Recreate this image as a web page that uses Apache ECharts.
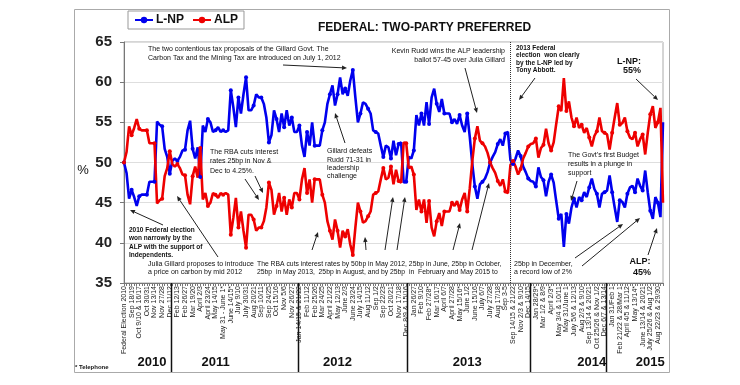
<!DOCTYPE html>
<html><head><meta charset="utf-8">
<script src="https://cdn.jsdelivr.net/npm/echarts@6/dist/echarts.min.js"></script>
<style>html,body{margin:0;padding:0;background:#fff}#c{width:740px;height:385px}</style>
</head><body><div id="c"></div>
<script>
// ---- categories (poll dates) ----
const cat2010 = ["Federal Election 2010","Aug 28/29 & Sep 4/5","Sep 11/12","Sep 18/19","Sep 25/26","Oct 2/3","Oct 9/10 & 16/17","Oct 13/14*","Oct 23/24","Oct 30/31","Nov 3/4*","Nov 6/7","Nov 13/14","Nov 17/18*","Nov 20/21","Nov 27/28","Dec 1/2*","Dec 4/5","Dec 11/12"];
const cat2011 = ["Jan 15/16 & 22/23","Jan 29/30 & Feb 5/6","Feb 12/13","Feb 19/20","Feb 22/23*","Feb 26/27","Mar 5/6","Mar 12/13","Mar 19/20","Mar 22/23*","Mar 26/27","April 2/3","April 9/10 & 16/17","April 19/20*","April 23/24","April 30/May 1","May 7/8","May 14/15","May 21/22","May 28/29","May 31 - June 1*","June 4/5","June 11/12 & 18/19","June 14/15*","June 25/26","July 2/3","July 9/10","July 16/17 & 23/24","July 19/20*","July 30/31","Aug 6/7","Aug 13/14","Aug 20/21","Aug 23/24*","Aug 27/28 & Sep 3/4","Sep 10/11","Sep 17/18","Sep 20/21*","Sep 24/25","Oct 1/2","Oct 8/9","Oct 15/16","Oct 22/23","Oct 29/30","Nov 5/6","Nov 12/13","Nov 19/20","Nov 26/27","Dec 3/4","Dec 10/11 & 17/18"];
const cat2012 = ["Jan 14/15 & 21/22","Jan 28/29","Feb 4/5","Feb 11/12","Feb 18/19","Feb 21/22*","Feb 25/26","Mar 3/4","Mar 10/11 & 17/18","Mar 24/25","Mar 31/April 1","April 14/15","April 21/22","April 28/29","May 5/6","May 12/13","May 19/20","May 26/27","June 2/3","June 9/10","June 16/17","June 23/24","June 26/27*","June 30/ July 1 & 7/8","July 14/15","July 21/22","July 28/29 & Aug 4/5","Aug 11/12","Aug 18/19","Aug 25/26","Sep 1/2","Sep 8/9","Sep 15/16","Sep 22/23","Sep 29/30 & Oct 6/7","Oct 13/14","Oct 20/21","Oct 27/28 & Nov 3/4","Nov 10/11","Nov 17/18","Nov 24/25","Dec 1/2","Dec 8/9 & 15/16"];
const cat2013 = ["Jan 5/6 & 12/13","Jan 19/20","Jan 26/27","Jan 30/31*","Feb 2/3","Feb 9/10","Feb 16/17","Feb 23/24","Feb 27/28*","Mar 2/3","Mar 9/10","Mar 16/17","Mar 23/24","April 3/4*","April 6/7","April 13/14","April 20/21","April 27/28","May 4/5","May 11/12","May 15/16*","May 18/19","May 25/26","June 1/2","June 8/9","June 12/13*","June 15/16","June 22/23","June 29/30","July 6/7","July 13/14","July 20/21","July 27/28","Aug 3/4","Aug 10/11","Aug 17/18","Aug 24/25","Aug 31/Sep 1","Sep 3-5","Sep 6","Federal Election 2013","Sep 14/15 & 21/22","Oct 5/6 & 12/13","Oct 19/20 & 26/27","Nov 2/3 & 9/10","Nov 16/17 & 23/24","Nov 30/Dec 1 & 7/8","Dec 14/15"];
const cat2014 = ["Jan 4/5 & 11/12","Jan 18/19 & 25/26","Jan 28/29*","Feb 1/2 & 8/9","Feb 15/16 & 22/23","Mar 1/2 & 8/9","Mar 15/16 & 22/23","Mar 29/30 & Apr 5/6","April 2/3*","April 12/13","April 19/20 & 26/27","May 3/4 & 10/11","May 14/15*","May 17/18 & 24/25","May 31/June 1","June 7/8 & 14/15","June 21/22 & 28/29","July 5/6 & 12/13","July 9/10*","July 19/20 & 26/27","Aug 2/3 & 9/10","Aug 16/17 & 23/24","Aug 30/31 & Sep 6/7","Sep 13/14 & 20/21","Sep 27/28 & Oct 4/5","Oct 11/12 & 18/19","Oct 25/26 & Nov 1/2","Nov 8/9 & 15/16","Nov 22/23 & 29/30","Dec 6/7 & 13/14"];
const cat2015 = ["Jan 3/4 & 10/11","Jan 17/18 & 24/25","Jan 31/Feb 1","Feb 7/8 & 14/15","Feb 11/12*","Feb 21/22 & 28/Mar 1","Mar 7/8 & 14/15","Mar 21/22 & 28/29","April 4/5 & 11/12","April 18/19 & 25/26","May 2/3 & 9/10","May 13/14*","May 16/17 & 23/24","May 30/31 & June 6/7","June 13/14 & 20/21","June 27/28 & July 4/5","July 11/12 & 18/19","July 25/26 & Aug 1/2","Aug 8/9 & 15/16","Aug 19/20*","Aug 22/23 & 29/30","Sep 5/6 & 12/13","Sep 14/15*"];

// ---- L-NP two-party preferred (%) ----
const lnp2010 = [50,48.7,45.5,46.6,45.7,44.6,45.8,46.0,46.0,46.0,47.6,47.6,47.6,55.1,54.7,54.5,51.7,50.7,48.6];
const lnp2011 = [50.2,50.5,50.2,50.7,51.5,51.6,54.0,55.2,51.7,50.5,51.9,48.2,54.6,53.8,55.4,55.0,53.8,54.0,54.4,53.8,54.0,53.8,54.0,59.0,56.9,54.4,58.1,56.1,58.5,60.6,56.5,56.5,57.1,58.5,58.1,58.1,57.3,55.6,52.5,53.4,56.5,55.4,53.8,56.1,54.4,56.5,54.6,55.6,53.8,53.8];
const lnp2012 = [54.6,52.1,50.7,53.8,52.1,55.0,52.1,52.1,52.1,54.0,55.0,57.3,58.5,59.6,57.1,58.5,60.6,58.5,59.2,58.3,60.2,61.5,58.1,55.0,56.1,57.5,57.3,56.7,56.1,54.0,53.8,53.6,52.1,50.7,52.1,51.9,50.5,52.7,50.9,52.3,52.5,47.5,47.6];
const lnp2013 = [50.7,50.5,51.5,55.9,54.6,56.1,54.6,57.5,54.8,58.1,59.2,57.3,56.3,57.9,56.1,56.1,56.1,55.0,55.4,54.8,55.9,54.6,53.8,56.1,53.2,49.8,47.0,45.5,47.3,47.6,48.0,48.8,50.0,50.7,51.3,52.3,52.9,52.1,53.6,53.8,50.3,49.8,50.5,51.5,50.8,49.5,48.8,48.0];
const lnp2014 = [47.7,47.6,47.0,49.4,48.2,47.8,45.8,47.6,48.5,47.5,45.2,43.0,43.6,39.5,43.6,42.4,44.4,45.5,44.4,45.7,45.3,46.3,45.7,46.9,48.0,46.7,46.1,44.4,46.1,46.3];
const lnp2015 = [46.5,48.4,46.3,44.4,42.6,45.3,45.1,44.4,46.1,46.9,47.1,46.3,48.0,47.1,46.5,49.0,46.3,44.0,43.0,45.7,45.0,43.2,55.0];

// ---- ALP two-party preferred (%) ----
const alp2010 = [50,51.3,54.5,53.4,54.3,55.4,54.2,54.0,54.0,54.0,52.4,52.4,52.4,44.9,45.3,45.5,48.3,49.3,51.4];
const alp2011 = [49.8,49.5,49.8,49.3,48.5,48.4,46.0,44.8,48.3,49.5,48.1,51.8,45.4,46.2,44.6,45.0,46.2,46.0,45.6,46.2,46.0,46.2,46.0,41.0,43.1,45.6,41.9,43.9,41.5,39.4,43.5,43.5,42.9,41.5,41.9,41.9,42.7,44.4,47.5,46.6,43.5,44.6,46.2,43.9,45.6,43.5,45.4,44.4,46.2,46.2];
const alp2012 = [45.4,47.9,49.3,46.2,47.9,45.0,47.9,47.9,47.9,46.0,45.0,42.7,41.5,40.4,42.9,41.5,39.4,41.5,40.8,41.7,39.8,38.5,41.9,45.0,43.9,42.5,42.7,43.3,43.9,46.0,46.2,46.4,47.9,49.3,47.9,48.1,49.5,47.3,49.1,47.7,47.5,52.5,52.4];
const alp2013 = [49.3,49.5,48.5,44.1,45.4,43.9,45.4,42.5,45.2,41.9,40.8,42.7,43.7,42.1,43.9,43.9,43.9,45.0,44.6,45.2,44.1,45.4,46.2,43.9,46.8,50.2,53.0,54.5,52.7,52.4,52.0,51.2,50.0,49.3,48.7,47.7,47.1,47.9,46.4,46.2,49.7,50.2,49.5,48.5,49.2,50.5,51.2,52.0];
const alp2014 = [52.3,52.4,53.0,50.6,51.8,52.2,54.2,52.4,51.5,52.5,54.8,57.0,56.4,60.5,56.4,57.6,55.6,54.5,55.6,54.3,54.7,53.7,54.3,53.1,52.0,53.3,53.9,55.6,53.9,53.7];
const alp2015 = [53.5,51.6,53.7,55.6,57.4,54.7,54.9,55.6,53.9,53.1,52.9,53.7,52.0,52.9,53.5,51.0,53.7,56.0,57.0,54.3,55.0,56.8,45.0];

const yearNames = ["2010","2011","2012","2013","2014","2015"];
const yTicks = [35,40,45,50,55,60,65];

const catGroups = [cat2010,cat2011,cat2012,cat2013,cat2014,cat2015];
const categories = [].concat(...catGroups);
const lnp = [].concat(lnp2010,lnp2011,lnp2012,lnp2013,lnp2014,lnp2015);
const alp = [].concat(alp2010,alp2011,alp2012,alp2013,alp2014,alp2015);

const FONT = "'Liberation Sans', Arial, sans-serif";
const chart = echarts.init(document.getElementById('c'), null, {renderer:'canvas'});
chart.setOption({
  animation:false,
  backgroundColor:'#fff',
  title:{text:'FEDERAL: TWO-PARTY PREFERRED', left:313, top:17,
    textStyle:{fontFamily:FONT, fontSize:12, fontWeight:'bold', color:'#111'}},
  legend:{left:128, top:11, padding:[3,6,3,6], itemGap:8, itemWidth:18, itemHeight:8,
    borderColor:'#999', borderWidth:1,
    textStyle:{fontFamily:FONT, fontSize:12, fontWeight:'bold', color:'#111', padding:[0,0,0,-2]},
    data:['L-NP','ALP']},
  grid:{left:124, right:77, top:42, bottom:102, show:true, borderColor:'#aaa', borderWidth:1},
  xAxis:{type:'category', data:categories, boundaryGap:false,
    axisLine:{lineStyle:{color:'#777'}},
    axisTick:{show:true, interval:0, length:3, lineStyle:{color:'#777'}},
    axisLabel:{interval:2, rotate:90, fontSize:7, color:'#222', margin:3, fontFamily:FONT},
    splitLine:{show:false}},
  yAxis:{type:'value', min:yTicks[0], max:yTicks[yTicks.length-1], interval:5,
    axisLine:{show:true, lineStyle:{color:'#777'}},
    axisTick:{show:true, length:4, lineStyle:{color:'#777'}},
    axisLabel:{fontFamily:FONT, fontSize:15, fontWeight:'bold', color:'#222', margin:12},
    splitLine:{lineStyle:{color:'#dedede'}}},
  series:[
    {name:'L-NP', type:'line', data:lnp, color:'#0000ee', symbol:'circle', symbolSize:4,
      lineStyle:{width:2.6, color:'#0000ee'}, itemStyle:{color:'#0000ee'},
      markLine:{silent:true, symbol:['none','none'], label:{show:false},
        lineStyle:{type:'dotted', color:'#333', width:1},
        data:[{xAxis:'Federal Election 2013'}]}},
    {name:'ALP', type:'line', data:alp, color:'#ee0000', symbol:'circle', symbolSize:4,
      lineStyle:{width:2.6, color:'#ee0000'}, itemStyle:{color:'#ee0000'}}
  ]
});

// ---- annotations & decorations ----
const g = [];
g.push({type:'rect', z:-1, shape:{x:74.5,y:9.5,width:595,height:363}, style:{fill:'none', stroke:'#aaa', lineWidth:1}});
function txt(x,y,lines,opt){
  opt = opt||{};
  g.push({type:'text', x:x, y:y, z:50, style:{text:lines.join('\n'), fontFamily:FONT,
    fontSize:opt.size||7, fontWeight:opt.bold?'bold':'normal', fill:'#111',
    lineHeight:opt.lh||8.5, align:opt.align||'left', verticalAlign:'top'}});
}
function arrow(x1,y1,x2,y2){
  const a=Math.atan2(y2-y1,x2-x1), L=5, W=2.2;
  const bx=x2-L*Math.cos(a), by=y2-L*Math.sin(a);
  g.push({type:'line', z:50, shape:{x1:x1,y1:y1,x2:bx,y2:by}, style:{stroke:'#222', lineWidth:1}});
  g.push({type:'polygon', z:50, shape:{points:[[x2,y2],[bx+W*Math.sin(a),by-W*Math.cos(a)],[bx-W*Math.sin(a),by+W*Math.cos(a)]]}, style:{fill:'#222'}});
}
txt(148,45,["The two contentious tax proposals of the Gillard Govt. The","Carbon Tax and the Mining Tax are introduced on July 1, 2012"]);
arrow(283,65,347,68);
txt(505,47,["Kevin Rudd wins the ALP leadership","ballot 57-45 over Julia Gillard"],{align:'right'});
arrow(465,68,477,113);
txt(516,44,["2013 Federal","election  won clearly","by the L-NP led by","Tony Abbott."],{bold:true,size:6.5,lh:7.5});
arrow(535,78,519,100);
txt(629,57,["L-NP:"],{bold:true,size:9,align:'center'});
txt(632,66,["55%"],{bold:true,size:9,align:'center'});
arrow(636,79,658,100);
txt(210,147,["The RBA cuts interest","rates 25bp in Nov &","Dec to 4.25%."],{lh:9.5});
arrow(245,179,259,200);
arrow(255,176,263,193);
txt(327,147,["Gillard defeats","Rudd 71-31 in","leadership","challenge"],{lh:8.4});
arrow(345,143,335,113);
txt(129,226,["2010 Federal election","won narrowly by the","ALP with the support of","Independents."],{bold:true,size:6.5,lh:8.3});
arrow(163,225,130,210);
txt(148,260,["Julia Gillard proposes to introduce","a price on carbon by mid 2012"],{lh:8.3});
arrow(218,257,177,196);
txt(257,260,["The RBA cuts interest rates by 50bp in May 2012, 25bp in June, 25bp in October,","25bp  in May 2013,  25bp in August, and by 25bp  in  February and May 2015 to"],{lh:8.3,size:6.8});
txt(514,260,["25bp in December,","a record low of 2%"],{lh:8.3});
arrow(312,250,318,232);
arrow(366,250,365,237);
arrow(385,250,393,197);
arrow(397,250,405,197);
arrow(453,250,460,223);
arrow(472,250,489,183);
arrow(575,258,623,224);
arrow(582,266,640,218);
txt(640,257,["ALP:"],{bold:true,size:9,align:'center'});
txt(642,268,["45%"],{bold:true,size:9,align:'center'});
arrow(648,255,657,228);
txt(568,151,["The Govt's first Budget","results in a plunge in","support"],{lh:9});
arrow(577,181,571,201);
txt(75,363,["* Telephone"],{bold:true,size:6});
g.push({type:'text', x:83, y:170, style:{text:'%', fontFamily:FONT, fontSize:13, fill:'#111', align:'center', verticalAlign:'middle'}});

// year separators and year labels, placed from the category scale
let idx = 0;
const yearLabelAt = [11,36,84,135,184,207];
const bottomY = chart.convertToPixel({yAxisIndex:0}, yTicks[0]);
catGroups.forEach((grp,k)=>{
  idx += grp.length;
  if (k < catGroups.length-1) {
    const xa = chart.convertToPixel({xAxisIndex:0}, idx-1);
    const xb = chart.convertToPixel({xAxisIndex:0}, idx);
    const xm = Math.round((xa+xb)/2)+0.5;
    g.push({type:'line', z:40, shape:{x1:xm,y1:bottomY,x2:xm,y2:372}, style:{stroke:'#111', lineWidth:1.5}});
  }
  const xl = chart.convertToPixel({xAxisIndex:0}, yearLabelAt[k]);
  g.push({type:'text', x:xl, y:362, z:40, style:{text:yearNames[k], fontFamily:FONT, fontSize:13, fontWeight:'bold', fill:'#111', align:'center', verticalAlign:'middle'}});
});
chart.setOption({graphic:g});
</script></body></html>
